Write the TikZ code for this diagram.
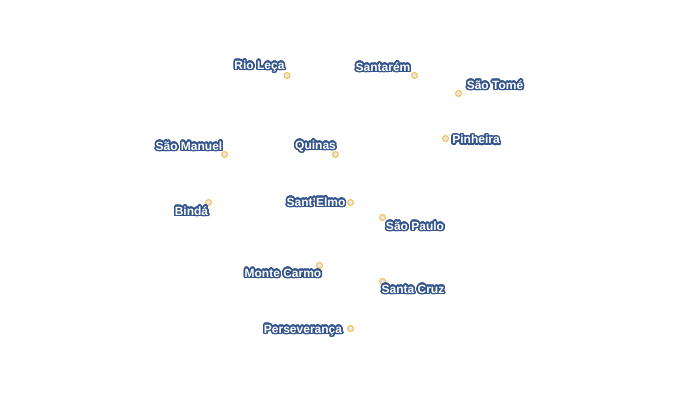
\documentclass[tikz,border=0pt]{standalone}
\usepackage{fontspec}
\usepackage{contour}
\setmainfont{Liberation Sans}
\contourlength{1.1pt}
\contournumber{32}
\definecolor{halo}{RGB}{52,84,140}
\definecolor{ring}{RGB}{245,190,65}
\definecolor{dotfill}{RGB}{232,232,236}
\newcommand{\place}[1]{\contour{halo}{\textcolor{white}{\bfseries #1}}}

\begin{document}
\begin{tikzpicture}[x=0.75pt,y=-0.75pt]
\tikzstyle{every node}=[inner sep=0pt,outer sep=0pt];
\tikzstyle{site}=[draw=ring,fill=dotfill,shape=circle,line width=0.75pt,minimum size=4.4pt];
\tikzstyle{placename}=[font=\fontsize{9}{9}\selectfont,text height=6.5pt,text depth=0pt];
\useasboundingbox (0,0) rectangle (700,410);
% sites
\node[site] (rioleca) at (287,75.5) {};
\node[site] (santarem) at (414.5,75.5) {};
\node[site] (saotome) at (458.5,93.5) {};
\node[site] (saomanuel) at (224.5,154.5) {};
\node[site] (quinas) at (335.5,154.5) {};
\node[site] (pinheira) at (445.5,138.5) {};
\node[site] (binda) at (208.5,202.5) {};
\node[site] (santelmo) at (350.5,202.5) {};
\node[site] (saopaulo) at (382.5,217.5) {};
\node[site] (montecarmo) at (319.5,265.5) {};
\node[site] (santacruz) at (382.5,281.5) {};
\node[site] (perseveranca) at (350.5,328.5) {};
% names
\node[placename] (riolecaname) at (259.5,65) {\place{Rio Leça}};
\node[placename] (santaremname) at (383,67) {\place{Santarém}};
\node[placename] (saotomename) at (495,85) {\place{São Tomé}};
\node[placename] (saomanuelname) at (189,146) {\place{São Manuel}};
\node[placename] (quinasname) at (315.5,145) {\place{Quinas}};
\node[placename] (pinheiraname) at (476,139.5) {\place{Pinheira}};
\node[placename] (bindaname) at (191.5,211) {\place{Bindá}};
\node[placename] (santelmoname) at (316,202) {\place{Sant'Elmo}};
\node[placename] (saopauloname) at (415,226) {\place{São Paulo}};
\node[placename] (montecarmoname) at (283,273) {\place{Monte Carmo}};
\node[placename] (santacruzname) at (413,289) {\place{Santa Cruz}};
\node[placename] (perseverancaname) at (303,329) {\place{Perseverança}};
\end{tikzpicture}
\end{document}
